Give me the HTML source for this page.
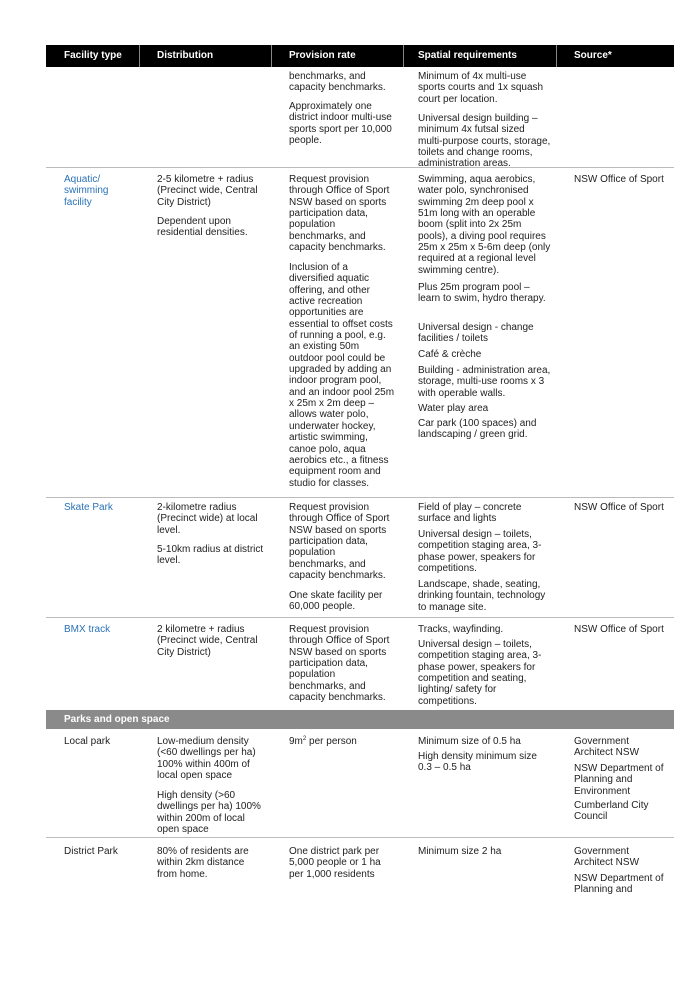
<!DOCTYPE html>
<html><head><meta charset="utf-8"><style>
body{margin:0;width:682px;height:989px;background:#fff;position:relative;font-family:"Liberation Sans",Arial,sans-serif;font-size:10px;color:#222;overflow:hidden}
.t{position:absolute;line-height:11.35px;white-space:nowrap;margin-top:2px}
.b{color:#2a72b8}
sup{font-size:6px;line-height:0;vertical-align:4px}
.hd{position:absolute;left:46px;top:45px;width:628px;height:22px;background:#000}
.hd span{position:absolute;top:5px;color:#fff;font-weight:bold;font-size:10px}
.vs{position:absolute;top:45px;height:22px;width:1px;background:#888}
.hl{position:absolute;left:46px;width:628px;height:1px;background:#bbb}
.sec{position:absolute;left:46px;top:710px;width:628px;height:19px;background:#8a8a8a}
.sec span{position:absolute;left:18px;top:4px;color:#fff;font-weight:bold}
</style></head><body>
<div class="hd"><span style="left:18px">Facility type</span><span style="left:111px">Distribution</span><span style="left:243px">Provision rate</span><span style="left:372px">Spatial requirements</span><span style="left:528px">Source*</span></div>
<div class="vs" style="left:139px"></div><div class="vs" style="left:271px"></div><div class="vs" style="left:403px"></div><div class="vs" style="left:556px"></div>

<div class="hl" style="top:167px"></div>
<div class="hl" style="top:497px"></div>
<div class="hl" style="top:617px"></div>
<div class="hl" style="top:837px"></div>
<div class="sec"><span>Parks and open space</span></div>

<div class="t" style="left:289px;top:69px">benchmarks, and<br>capacity benchmarks.</div>
<div class="t" style="left:289px;top:99px">Approximately one<br>district indoor multi-use<br>sports sport per 10,000<br>people.</div>
<div class="t" style="left:418px;top:69px">Minimum of 4x multi-use<br>sports courts and 1x squash<br>court per location.</div>
<div class="t" style="left:418px;top:111px">Universal design building –<br>minimum 4x futsal sized<br>multi-purpose courts, storage,<br>toilets and change rooms,<br>administration areas.</div>

<div class="t b" style="left:64px;top:172px">Aquatic/<br>swimming<br>facility</div>
<div class="t" style="left:157px;top:172px">2-5 kilometre + radius<br>(Precinct wide, Central<br>City District)</div>
<div class="t" style="left:157px;top:214px">Dependent upon<br>residential densities.</div>
<div class="t" style="left:289px;top:172px">Request provision<br>through Office of Sport<br>NSW based on sports<br>participation data,<br>population<br>benchmarks, and<br>capacity benchmarks.</div>
<div class="t" style="left:289px;top:260px">Inclusion of a<br>diversified aquatic<br>offering, and other<br>active recreation<br>opportunities are<br>essential to offset costs<br>of running a pool, e.g.<br>an existing 50m<br>outdoor pool could be<br>upgraded by adding an<br>indoor program pool,<br>and an indoor pool 25m<br>x 25m x 2m deep –<br>allows water polo,<br>underwater hockey,<br>artistic swimming,<br>canoe polo, aqua<br>aerobics etc., a fitness<br>equipment room and<br>studio for classes.</div>
<div class="t" style="left:418px;top:172px">Swimming, aqua aerobics,<br>water polo, synchronised<br>swimming 2m deep pool x<br>51m long with an operable<br>boom (split into 2x 25m<br>pools), a diving pool requires<br>25m x 25m x 5-6m deep (only<br>required at a regional level<br>swimming centre).</div>
<div class="t" style="left:418px;top:280px">Plus 25m program pool –<br>learn to swim, hydro therapy.</div>
<div class="t" style="left:418px;top:320px">Universal design - change<br>facilities / toilets</div>
<div class="t" style="left:418px;top:347px">Café &amp; crèche</div>
<div class="t" style="left:418px;top:363px">Building - administration area,<br>storage, multi-use rooms x 3<br>with operable walls.</div>
<div class="t" style="left:418px;top:401px">Water play area</div>
<div class="t" style="left:418px;top:416px">Car park (100 spaces) and<br>landscaping / green grid.</div>
<div class="t" style="left:574px;top:172px">NSW Office of Sport</div>

<div class="t b" style="left:64px;top:500px">Skate Park</div>
<div class="t" style="left:157px;top:500px">2-kilometre radius<br>(Precinct wide) at local<br>level.</div>
<div class="t" style="left:157px;top:542px">5-10km radius at district<br>level.</div>
<div class="t" style="left:289px;top:500px">Request provision<br>through Office of Sport<br>NSW based on sports<br>participation data,<br>population<br>benchmarks, and<br>capacity benchmarks.</div>
<div class="t" style="left:289px;top:588px">One skate facility per<br>60,000 people.</div>
<div class="t" style="left:418px;top:500px">Field of play – concrete<br>surface and lights</div>
<div class="t" style="left:418px;top:527px">Universal design – toilets,<br>competition staging area, 3-<br>phase power, speakers for<br>competitions.</div>
<div class="t" style="left:418px;top:577px">Landscape, shade, seating,<br>drinking fountain, technology<br>to manage site.</div>
<div class="t" style="left:574px;top:500px">NSW Office of Sport</div>

<div class="t b" style="left:64px;top:622px">BMX track</div>
<div class="t" style="left:157px;top:622px">2 kilometre + radius<br>(Precinct wide, Central<br>City District)</div>
<div class="t" style="left:289px;top:622px">Request provision<br>through Office of Sport<br>NSW based on sports<br>participation data,<br>population<br>benchmarks, and<br>capacity benchmarks.</div>
<div class="t" style="left:418px;top:622px">Tracks, wayfinding.</div>
<div class="t" style="left:418px;top:637px">Universal design – toilets,<br>competition staging area, 3-<br>phase power, speakers for<br>competition and seating,<br>lighting/ safety for<br>competitions.</div>
<div class="t" style="left:574px;top:622px">NSW Office of Sport</div>

<div class="t" style="left:64px;top:734px">Local park</div>
<div class="t" style="left:157px;top:734px">Low-medium density<br>(&lt;60 dwellings per ha)<br>100% within 400m of<br>local open space</div>
<div class="t" style="left:157px;top:788px">High density (&gt;60<br>dwellings per ha) 100%<br>within 200m of local<br>open space</div>
<div class="t" style="left:289px;top:734px">9m<sup>2</sup> per person</div>
<div class="t" style="left:418px;top:734px">Minimum size of 0.5 ha</div>
<div class="t" style="left:418px;top:749px">High density minimum size<br>0.3 – 0.5 ha</div>
<div class="t" style="left:574px;top:734px">Government<br>Architect NSW</div>
<div class="t" style="left:574px;top:761px">NSW Department of<br>Planning and<br>Environment</div>
<div class="t" style="left:574px;top:798px">Cumberland City<br>Council</div>

<div class="t" style="left:64px;top:844px">District Park</div>
<div class="t" style="left:157px;top:844px">80% of residents are<br>within 2km distance<br>from home.</div>
<div class="t" style="left:289px;top:844px">One district park per<br>5,000 people or 1 ha<br>per 1,000 residents</div>
<div class="t" style="left:418px;top:844px">Minimum size 2 ha</div>
<div class="t" style="left:574px;top:844px">Government<br>Architect NSW</div>
<div class="t" style="left:574px;top:871px">NSW Department of<br>Planning and</div>
</body></html>
